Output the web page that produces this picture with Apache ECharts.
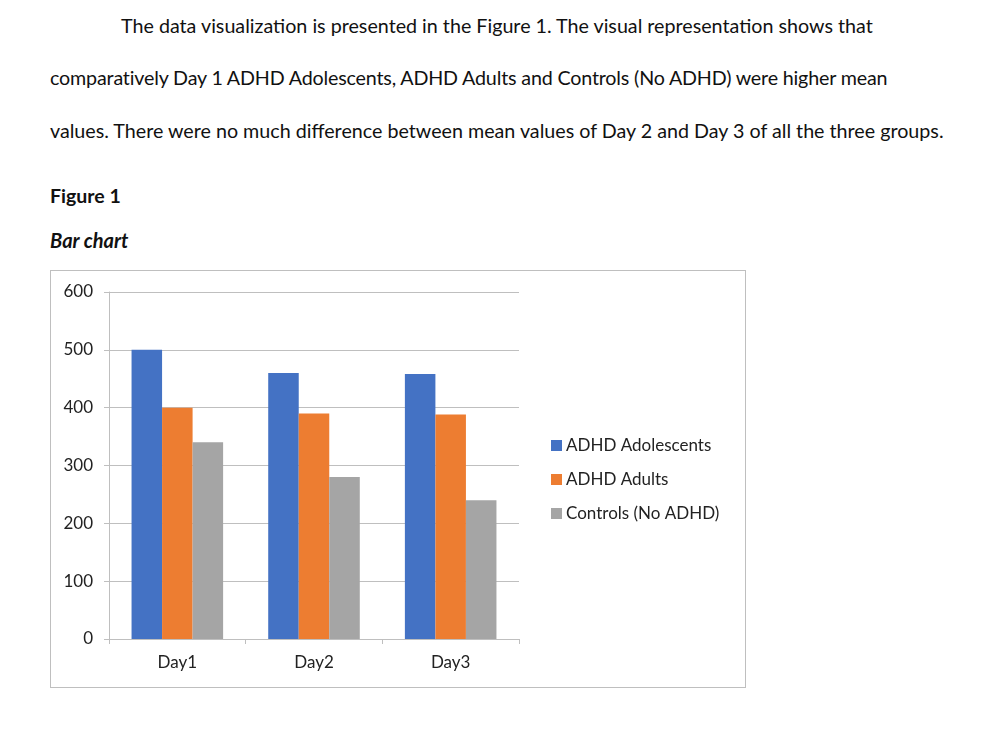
<!DOCTYPE html>
<html>
	<head>
		<meta charset="utf-8" />
		<title>Figure 1</title>
		<script src="https://cdn.jsdelivr.net/npm/echarts@6/dist/echarts.min.js"></script>
		<style>
			body { margin: 0; background: #fff; font-family: Lato, "Open Sans", sans-serif; color: #111; }
			.line { position: absolute; font-size: 19.7px; white-space: nowrap; }
			#box { position: absolute; left: 50px; top: 270px; width: 696px; height: 418px; border: 1px solid #bfbfbf; box-sizing: border-box; }
			#main { width: 100%; height: 100%; }
		</style>
	</head>
	<body>
		<div class="line" style="left:121px;top:14px">The data visualization is presented in the Figure 1. The visual representation shows that</div>
		<div class="line" style="left:50px;top:66px;letter-spacing:-0.17px">comparatively Day 1 ADHD Adolescents, ADHD Adults and Controls (No ADHD) were higher mean</div>
		<div class="line" style="left:50px;top:119px">values. There were no much difference between mean values of Day 2 and Day 3 of all the three groups.</div>
		<div class="line" style="left:50px;top:184px;font-weight:bold;font-size:19.5px">Figure 1</div>
		<div class="line" style="left:50px;top:228px;font-weight:bold;font-style:italic;font-size:20px">Bar chart</div>

		<div id="box"><div id="main"></div></div>

		<script type="text/javascript">
			// 数据
			var days = ['Day1', 'Day2', 'Day3'];
			var adolescents = [500, 460, 458];
			var adults = [400, 390, 388];
			var controls = [340, 280, 240];

			var myCharts = echarts.init(document.getElementById("main"));
			var option = {
				animation: false,
				textStyle: { fontFamily: 'Lato' },
				grid: {
					left: 58,
					top: 21,
					width: 410,
					height: 347
				},
				legend: {
					orient: 'vertical',
					left: 495,
					top: 161,
					itemWidth: 11,
					itemHeight: 11,
					itemGap: 17,
					icon: 'rect',
					textStyle: { fontSize: 17, color: '#222', padding: [0, 0, 0, -1] },
					data: ['ADHD Adolescents', 'ADHD Adults', 'Controls (No ADHD)']
				},
				xAxis: {
					type: 'category',
					data: days,
					axisLine: { lineStyle: { color: '#bfbfbf' } },
					axisTick: { show: true, length: 5, lineStyle: { color: '#bfbfbf' } },
					axisLabel: { fontSize: 17, color: '#222', margin: 15 }
				},
				yAxis: {
					type: 'value',
					min: 0,
					max: 600,
					interval: 100,
					axisLine: { show: true, lineStyle: { color: '#bfbfbf' } },
					axisTick: { show: true, length: 5, lineStyle: { color: '#bfbfbf' } },
					splitLine: { lineStyle: { color: '#bfbfbf' } },
					axisLabel: { fontSize: 17, color: '#222', margin: 16 }
				},
				series: [
					{ name: 'ADHD Adolescents', type: 'bar', data: adolescents, itemStyle: { color: '#4472C4' }, barGap: '0%', barCategoryGap: '33%' },
					{ name: 'ADHD Adults', type: 'bar', data: adults, itemStyle: { color: '#ED7D31' } },
					{ name: 'Controls (No ADHD)', type: 'bar', data: controls, itemStyle: { color: '#A5A5A5' } }
				]
			};
			myCharts.setOption(option);
		</script>
	</body>
</html>
